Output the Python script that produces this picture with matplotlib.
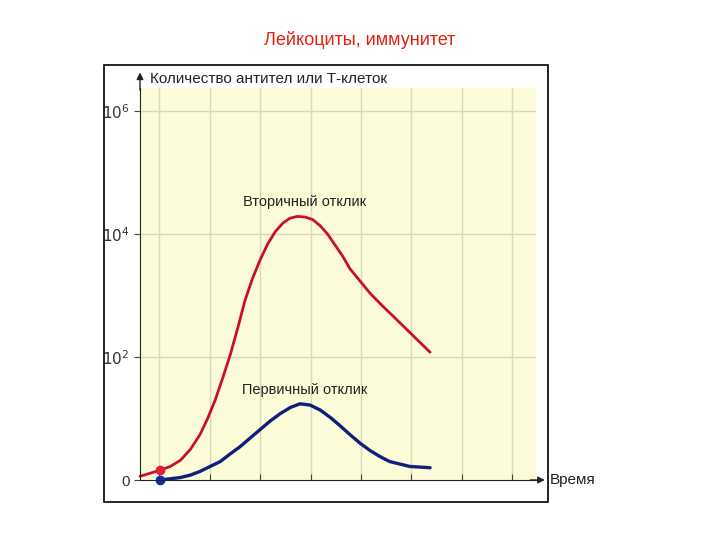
import matplotlib.pyplot as plt
from matplotlib.patches import Rectangle

plt.rcParams['font.family'] = ['Liberation Sans', 'DejaVu Sans']

# time units (grid line = 1), y in "log levels": 0 -> 0, 1 -> 10^2, 2 -> 10^4, 3 -> 10^6
red_x = [0.62, 1.02, 1.22, 1.42, 1.62, 1.81, 1.96, 2.11, 2.26, 2.41, 2.56, 2.70, 2.85, 3.00, 3.15, 3.30,
         3.45, 3.59, 3.74, 3.89, 4.04, 4.19, 4.34, 4.49, 4.64, 4.78, 4.98, 5.18, 5.37, 5.57, 5.77, 5.97, 6.17, 6.37]
red_y = [0.03, 0.08, 0.11, 0.16, 0.25, 0.37, 0.50, 0.65, 0.83, 1.02, 1.24, 1.46, 1.64, 1.79, 1.92, 2.02,
         2.09, 2.13, 2.145, 2.14, 2.12, 2.07, 2.00, 1.91, 1.82, 1.72, 1.62, 1.52, 1.44, 1.36, 1.28, 1.20, 1.12, 1.04]
blue_x = [1.02, 1.22, 1.42, 1.62, 1.81, 2.01, 2.21, 2.40, 2.60, 2.80, 3.00, 3.20, 3.40, 3.60, 3.79, 3.99,
          4.19, 4.39, 4.59, 4.78, 4.98, 5.18, 5.38, 5.57, 5.77, 5.97, 6.17, 6.37]
blue_y = [0.0, 0.01, 0.02, 0.04, 0.07, 0.11, 0.15, 0.21, 0.27, 0.34, 0.41, 0.48, 0.54, 0.59, 0.62, 0.61,
          0.57, 0.51, 0.44, 0.37, 0.30, 0.24, 0.19, 0.15, 0.13, 0.11, 0.105, 0.10]
ytick_pos = [0, 1, 2, 3]
ytick_lab = ['0', '$10^2$', '$10^4$', '$10^6$']

W, H = 720, 540
fig = plt.figure(figsize=(7.2, 5.4), dpi=100)
fig.patches.append(Rectangle((104 / W, 1 - 502 / H), 444 / W, 437 / H, transform=fig.transFigure,
                             fill=False, edgecolor='black', linewidth=1.2))
fig.text(0.5, 1 - 40 / H, 'Лейкоциты, иммунитет', color='#e02010', fontsize=13,
         ha='center', va='center')

ax = fig.add_axes([140 / W, 60 / H, 396 / W, 392 / H])
ax.set_facecolor('#fcfcd8')
ax.set_xlim(0.62, 8.47)
ax.set_ylim(0, 3.19)
for s in ['top', 'right']:
    ax.spines[s].set_visible(False)
for s in ['left', 'bottom']:
    ax.spines[s].set_color('#222222')
for g in range(1, 9):
    ax.axvline(g, color='#d8d8c0', linewidth=1, zorder=0)
for g in ytick_pos[1:]:
    ax.axhline(g, color='#d8d8c0', linewidth=1, zorder=0)
ax.set_xticks(range(1, 9))
ax.set_xticklabels([])
ax.tick_params(axis='x', direction='in', length=4, color='#444444')
ax.set_yticks(ytick_pos)
ax.set_yticklabels(ytick_lab, fontsize=11, color='#333333')
ax.tick_params(axis='y', direction='out', length=4, color='#444444')

ax.plot(red_x, red_y, color='#c8102e', linewidth=2, solid_capstyle='round',
        solid_joinstyle='round', clip_on=False)
ax.plot(blue_x, blue_y, color='#10207a', linewidth=2.4, solid_capstyle='round',
        solid_joinstyle='round', clip_on=False)
ax.plot(red_x[1], red_y[1], 'o', color='#e0203c', markersize=6, clip_on=False)
ax.plot(blue_x[0], blue_y[0], 'o', color='#1030a0', markersize=6, clip_on=False)

ax.text(3.89, 2.26, 'Вторичный отклик', ha='center', va='center', fontsize=10.5, color='#222222')
ax.text(3.89, 0.73, 'Первичный отклик', ha='center', va='center', fontsize=10.5, color='#222222')

# axis arrows and labels
ax.annotate('', xy=(8.7, 0), xytext=(8.3, 0), xycoords='data',
            arrowprops=dict(arrowstyle='-|>', color='#222222', lw=1), annotation_clip=False)
ax.text(8.75, 0, 'Время', va='center', ha='left', fontsize=11, color='#222222')
ax.annotate('', xy=(0.62, 3.34), xytext=(0.62, 3.15),
            arrowprops=dict(arrowstyle='-|>', color='#222222', lw=1), annotation_clip=False)
ax.text(0.82, 3.26, 'Количество антител или Т-клеток', va='center', ha='left', fontsize=11, color='#222222')

plt.savefig('out.png')
